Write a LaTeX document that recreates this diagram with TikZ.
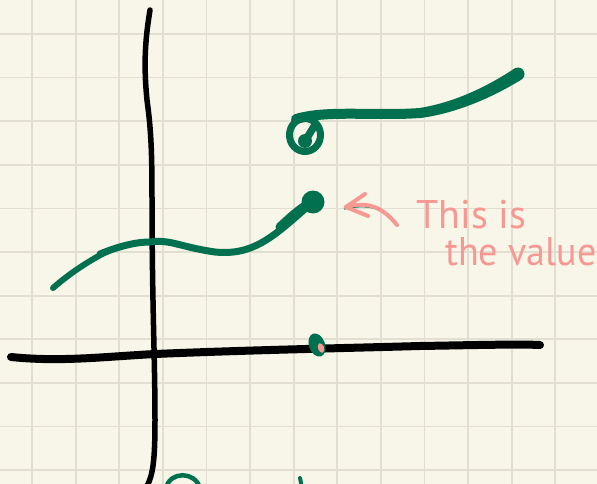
\documentclass[tikz,border=0pt]{standalone}
\usepackage{fontspec}
\usetikzlibrary{shapes.geometric}
\newfontfamily\hand{PT Sans}
\definecolor{paper}{HTML}{F8F5E9}
\definecolor{gridc}{HTML}{E2DFD2}
\definecolor{ink}{HTML}{00704F}
\definecolor{pinkc}{HTML}{F79893}
\tikzset{
  axis/.style={line width=6pt, line cap=round, line join=round, black},
  gcurve/.style={line width=7.5pt, line cap=round, ink},
  pstroke/.style={line width=4pt, line cap=round, pinkc},
  note/.style={font=\hand\fontsize{40}{44}\selectfont, text=pinkc, inner sep=0pt, anchor=base west}
}
\begin{document}
\begin{tikzpicture}[x=1pt,y=-1pt]
\fill[paper] (0,0) rectangle (597,484);
\useasboundingbox (0,0) rectangle (597,484);
% grid
\foreach \k in {0,...,12} \draw[gridc, line width=1.8pt] ({32+43.6*\k},0) -- ({32+43.6*\k},484);
\foreach \k in {0,...,10} \draw[gridc, line width=1.8pt] (0,{34+43.6*\k}) -- (597,{34+43.6*\k});
% axes
\coordinate (ytop) at (150,10);
\coordinate (ybot) at (147,486);
\draw[axis, line width=5.5pt] (ytop) .. controls (146,35) and (143,60) .. (147,100)
  .. controls (151,130) and (152,150) .. (152,200)
  .. controls (152,300) and (155,360) .. (155,420)
  .. controls (155,460) and (153,475) .. (ybot);
\coordinate (xl) at (11,357);
\coordinate (xr) at (540,345);
\draw[axis, line width=8pt] (xl) .. controls (60,362) and (100,357) .. (155,354)
  .. controls (250,350) and (350,348) .. (420,346)
  .. controls (480,345) and (520,344) .. (xr);
% left green curve with closed dot
\node[circle, fill=ink, minimum size=23pt, inner sep=0pt] (cdot) at (313,202) {};
\coordinate (lstart) at (53,288);
\draw[gcurve, line width=6pt] (lstart) .. controls (70,273) and (90,260) .. (110,250);
\draw[gcurve, line width=7pt] (100,254) .. controls (122,245) and (138,242) .. (150,242)
  .. controls (170,239) and (180,247) .. (215,252)
  .. controls (255,256) and (275,235) .. (cdot.center);
\draw[ink, line width=9pt, line cap=round] (280,227) .. controls (294,214) and (303,206) .. (cdot.center);
% open circle and upper curve
\node[ellipse, draw=ink, line width=7pt, minimum width=31pt, minimum height=33pt, inner sep=0pt] (odot) at (305,135) {};
\node[circle, fill=ink, minimum size=14pt, inner sep=0pt] (idot) at (305,141) {};
\draw[gcurve] (idot.center) -- (315,125);
\coordinate (uend) at (518,74);
\draw[gcurve, line width=10pt] (296,119) .. controls (320,112) and (350,114) .. (390,114)
  .. controls (405,114) and (412,113.5) .. (420,113);
\fill[ink] (419.3,108) .. controls (453.4,102.8) and (487,86.8) .. (514.5,68.5)
  -- (521.5,79.5) .. controls (493,97.2) and (456.6,113.2) .. (420.7,118) -- cycle;
\fill[ink] (uend) circle[radius=6.5];
% dot on x axis
\coordinate (xdot) at (317,345);
\coordinate (pdot) at (321,348);
\fill[ink, rotate around={20:(xdot)}] (xdot) ellipse[x radius=8, y radius=12];
\fill[pinkc, rotate around={20:(pdot)}] (pdot) ellipse[x radius=3, y radius=5];
% pink arrow
\coordinate (atip) at (346,207);
\coordinate (atail) at (397,225);
\draw[ink, line width=1.2pt] (344,209) .. controls (370,203) and (385,210) .. (395,221);
\draw[pstroke] (atail) .. controls (385,210) and (370,200) .. (atip);
\draw[pstroke] (atip) -- (365,194);
\draw[pstroke] (atip) -- (368,216);
% note
\node[note] (l1) at (416,228) {This is};
\node[note, xscale=0.95] (l2) at (445,265) {the value};
% bottom fragments
\draw[ink, line width=4.5pt] (166,488) .. controls (170,471) and (195,471) .. (200,488);
\draw[ink, line width=4pt, line cap=round] (300,478) -- (302,488);
\end{tikzpicture}
\end{document}
